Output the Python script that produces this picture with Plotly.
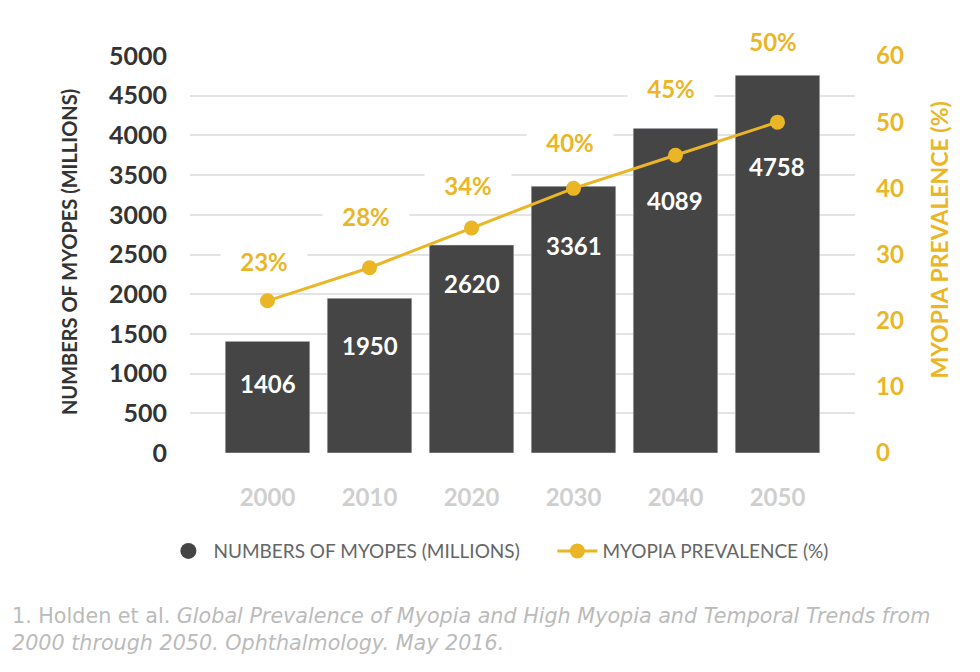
import plotly.graph_objects as go

years = ["2000", "2010", "2020", "2030", "2040", "2050"]
myopes = [1406, 1950, 2620, 3361, 4089, 4758]
prevalence = [23, 28, 34, 40, 45, 50]
bar_labels = ["1406", "1950", "2620", "3361", "4089", "4758"]
pct_labels = ["23%", "28%", "34%", "40%", "45%", "50%"]
left_ticks = list(range(0, 5001, 500))
right_ticks = list(range(0, 61, 10))

# label offsets in pixels (style only)
bar_label_shift = [-42, -47, -39, -59, -72, -91]
pct_label_shift = [39, 51, 43, 46, 67, 81]

DARK = "#454545"
GOLD = "#EBB626"
FONT = "Lato"

fig = go.Figure()
fig.add_trace(go.Bar(x=years, y=myopes, marker_color=DARK, showlegend=False,
                     name="NUMBERS OF MYOPES (MILLIONS)"))
fig.add_trace(go.Scatter(x=[None], y=[None], mode="markers",
                         marker=dict(color=DARK, size=16, symbol="circle"),
                         name="NUMBERS OF MYOPES (MILLIONS)", legendwidth=334))
fig.add_trace(go.Scatter(x=years, y=prevalence, yaxis="y2", mode="lines+markers",
                         line=dict(color=GOLD, width=3),
                         marker=dict(color=GOLD, size=15),
                         name="MYOPIA PREVALENCE (%)"))

anns = []
for i, (v, t) in enumerate(zip(myopes, bar_labels)):
    anns.append(dict(x=i, y=v, xref="x", yref="y", text=t, showarrow=False,
                     yshift=bar_label_shift[i],
                     font=dict(family=FONT, size=24, color="white", weight="bold")))
for i, (v, t) in enumerate(zip(prevalence, pct_labels)):
    anns.append(dict(x=i, y=v, xref="x", yref="y2", text=t, showarrow=False,
                     yshift=pct_label_shift[i], xshift=-4, width=84,
                     font=dict(family=FONT, size=24, color=GOLD, weight="bold"),
                     bgcolor="white"))
anns.append(dict(x=-0.203, y=0.506, xref="paper", yref="paper", text="NUMBERS OF MYOPES (MILLIONS)",
                 textangle=-90, showarrow=False,
                 font=dict(family=FONT, size=20, color="#333333", weight="bold")))
anns.append(dict(x=1.15, y=0.537, xref="paper", yref="paper", text="MYOPIA PREVALENCE (%)",
                 textangle=-90, showarrow=False,
                 font=dict(family=FONT, size=23, color=GOLD, weight="bold")))
anns.append(dict(x=-0.271, y=-0.445, xref="paper", yref="paper", xanchor="left", yanchor="middle",
                 align="left", showarrow=False,
                 text="1. Holden et al. <i>Global Prevalence of Myopia and High Myopia and Temporal Trends from</i><br><i>2000 through 2050. Ophthalmology. May 2016.</i>",
                 font=dict(family="DejaVu Sans", size=20.7, color="#BBBBBB")))

fig.update_layout(
    width=980, height=672,
    margin=dict(l=182, r=133, t=48, b=227),
    paper_bgcolor="white", plot_bgcolor="white",
    bargap=0.17,
    xaxis=dict(type="category", range=[-0.76, 5.76], showgrid=False, showline=False,
               ticks="", ticklabelstandoff=28,
               tickfont=dict(family=FONT, size=24, color="#CFCFCF", weight="bold")),
    yaxis=dict(range=[0, 5000], tickvals=left_ticks, showgrid=True, gridcolor="#E3E3E3",
               gridwidth=2, zeroline=False, showline=False, ticks="", ticklabelstandoff=22,
               tickfont=dict(family=FONT, size=25, color="#333333", weight="bold")),
    yaxis2=dict(range=[0, 60], tickvals=right_ticks, overlaying="y", side="right",
                showgrid=False, zeroline=False, showline=False, ticks="", ticklabelstandoff=20,
                tickfont=dict(family=FONT, size=24, color=GOLD, weight="bold")),
    legend=dict(orientation="h", x=-0.04, xanchor="left", y=-0.247, yanchor="middle",
                font=dict(family=FONT, size=19, color="#666666"), itemwidth=40,
                traceorder="normal"),
    annotations=anns,
)

fig.write_html("out.html")
